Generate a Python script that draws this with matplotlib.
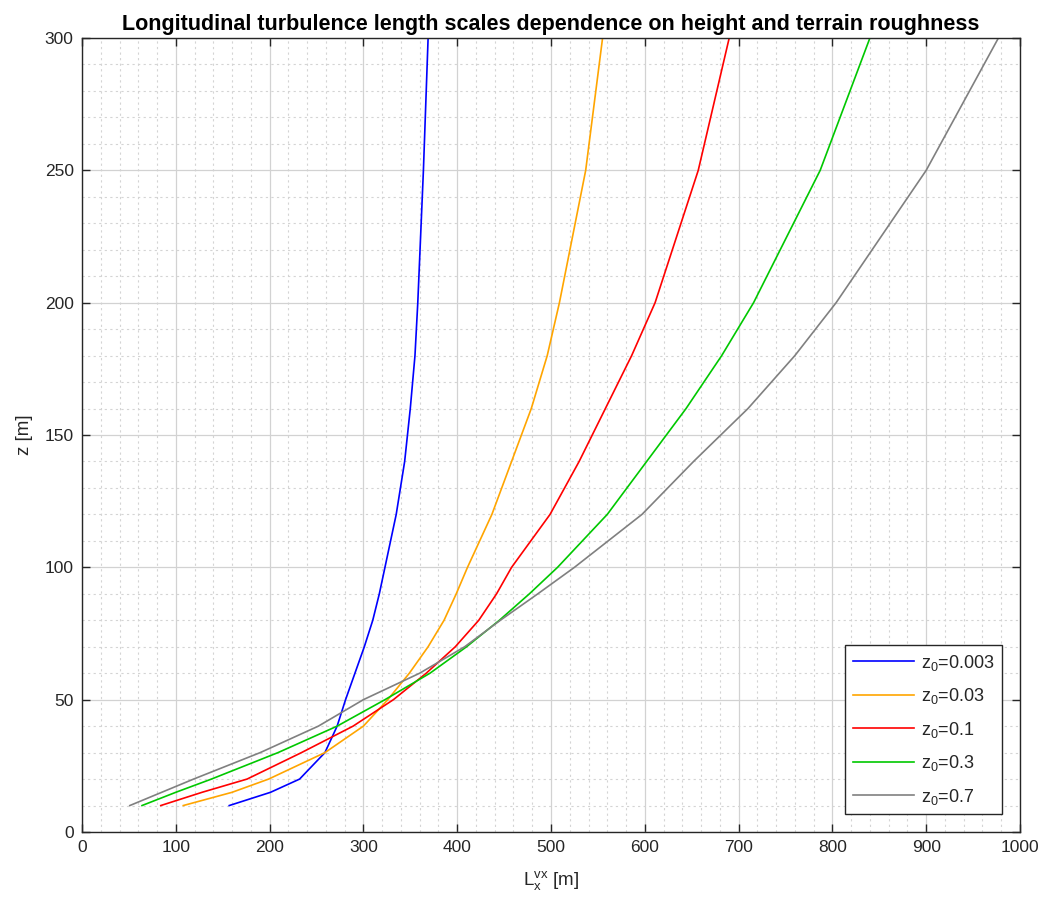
import matplotlib
matplotlib.use("Agg")
import matplotlib.pyplot as plt
from matplotlib.ticker import MultipleLocator

#Here we set the style of the plot (MATLAB-like look)
plt.rc('font', family='Liberation Sans')
plt.rc('mathtext', fontset='custom', rm='Liberation Sans', it='Liberation Sans')

# heights [m]
z = [10, 15, 20, 30, 40, 50, 60, 70, 80, 90, 100, 120, 140, 160, 180, 200, 250, 300]

# longitudinal turbulence length scale [m] for each roughness length
L_0003 = [157, 201, 232, 259, 272, 281, 291, 301, 310, 317, 323, 335, 344, 350, 355, 358, 364, 369]
L_003 = [108, 160, 199, 259, 300, 326, 349, 369, 386, 399, 411, 437, 458, 479, 496, 509, 537, 555]
L_01 = [84, 128, 176, 234, 289, 332, 367, 398, 423, 442, 458, 499, 530, 558, 586, 611, 657, 690]
L_03 = [64, 100, 138, 209, 272, 323, 371, 410, 445, 477, 507, 560, 602, 644, 682, 716, 787, 840]
L_07 = [51, 85, 119, 190, 252, 300, 360, 408, 446, 486, 525, 597, 652, 710, 760, 804, 900, 977]

series = [L_0003, L_003, L_01, L_03, L_07]
labels = ['0.003', '0.03', '0.1', '0.3', '0.7']
colors = ['#0000ff', '#ffa500', '#ff0000', '#00c800', '#808080']

txt = '#262626'

fig = plt.figure(figsize=(10.47, 9.09), dpi=100)
ax = fig.add_axes([0.0783, 0.0847, 0.8959, 0.8735])

for L, lab, col in zip(series, labels, colors):
    ax.plot(L, z, color=col, linewidth=1.2, label=r'$\mathregular{z_0}$=' + lab)

ax.set_xlim(0, 1000)
ax.set_ylim(0, 300)
ax.xaxis.set_major_locator(MultipleLocator(100))
ax.yaxis.set_major_locator(MultipleLocator(50))
ax.xaxis.set_minor_locator(MultipleLocator(20))
ax.yaxis.set_minor_locator(MultipleLocator(10))

ax.grid(which='major', color='#d2d2d2', linewidth=0.9, linestyle='-')
ax.grid(which='minor', color='#d4d4d4', linewidth=0.8, linestyle=(0, (2, 3)))
ax.set_axisbelow(True)

ax.tick_params(which='major', direction='in', length=6, width=1, colors=txt,
               labelsize=12.5, top=True, right=True, pad=6)
ax.tick_params(which='minor', length=0)
for s in ax.spines.values():
    s.set_color(txt)
    s.set_linewidth(1.0)

ax.set_xlabel(r'$\mathregular{L_x^{vx}}$ [m]', fontsize=13.5, color=txt, labelpad=10)
ax.set_ylabel('z [m]', fontsize=13.5, color=txt, labelpad=8)
ax.set_title('Longitudinal turbulence length scales dependence on height and terrain roughness',
             fontsize=15.5, fontweight='bold', color='black', pad=6)

leg = ax.legend(loc='lower right', fontsize=13, handlelength=3.4, fancybox=False,
                framealpha=1, edgecolor=txt, borderaxespad=1.0, labelspacing=0.75,
                handletextpad=0.4)
leg.get_frame().set_linewidth(1.0)
for t in leg.get_texts():
    t.set_color(txt)

plt.savefig('out.png', dpi=100)
